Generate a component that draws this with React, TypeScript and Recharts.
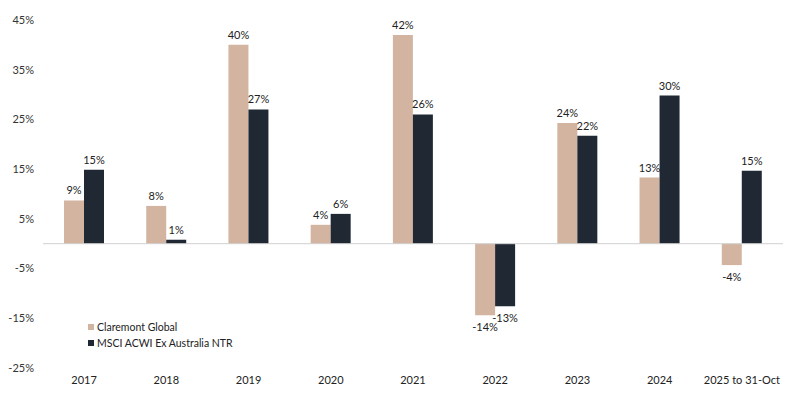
import { BarChart, Bar, XAxis, YAxis, ReferenceLine, LabelList } from "recharts";

const years = ["2017", "2018", "2019", "2020", "2021", "2022", "2023", "2024", "2025 to 31-Oct"];
const claremont = [8.7, 7.6, 40, 3.8, 42, -14.4, 24.3, 13.3, -4.3];
const msci = [14.9, 0.8, 27, 6, 26, -12.6, 21.7, 29.8, 14.7];
const yTicks = [-25, -15, -5, 5, 15, 25, 35, 45];

const series = [
  { key: "claremont", name: "Claremont Global", color: "#d2b4a0" },
  { key: "msci", name: "MSCI ACWI Ex Australia NTR", color: "#1f2833" },
];

const data = years.map((year, i) => ({ year, claremont: claremont[i], msci: msci[i] }));

const font = "Lato, 'Open Sans', sans-serif";
const pct = (v: number) => `${v}%`;

// value label above positive bars, below negative ones
const renderLabel = (props: any) => {
  const { x, y, width, height, value } = props;
  const top = Math.min(y, y + height);
  const bottom = Math.max(y, y + height);
  const neg = value < 0;
  return (
    <text
      x={x + width / 2}
      y={neg ? bottom + 16 : top - 6}
      textAnchor="middle"
      fontSize={11}
      fill="#222"
      fontFamily={font}
    >
      {`${Math.round(value)}%`}
    </text>
  );
};

export default function App() {
  return (
    <div style={{ position: "absolute", left: 0, top: 0, width: 802, height: 402, background: "#fff", fontFamily: font }}>
      <BarChart
        width={802}
        height={402}
        data={data}
        margin={{ top: 20, right: 19, bottom: 4, left: 0 }}
        barGap={0}
        barSize={20}
      >
        <XAxis
          dataKey="year"
          axisLine={false}
          tickLine={false}
          tickSize={0}
          tickMargin={8}
          height={30}
          interval={0}
          tick={{ fontSize: 11, fill: "#222", fontFamily: font }}
        />
        <YAxis
          domain={[-25, 45]}
          ticks={yTicks}
          axisLine={false}
          tickLine={false}
          tickSize={0}
          tickMargin={9}
          width={43}
          tickFormatter={pct}
          tick={{ fontSize: 11, fill: "#333", fontFamily: font }}
        />
        <ReferenceLine y={0} stroke="#d0d0d0" strokeWidth={1} />
        {series.map((s) => (
          <Bar key={s.key} dataKey={s.key} name={s.name} fill={s.color} isAnimationActive={false}>
            <LabelList dataKey={s.key} content={renderLabel} />
          </Bar>
        ))}
      </BarChart>
      <div style={{ position: "absolute", left: 88, top: 319, fontSize: 10.5, lineHeight: "16px", color: "#222" }}>
        {series.map((s) => (
          <div key={s.key} style={{ display: "flex", alignItems: "center" }}>
            <span style={{ display: "inline-block", width: 6, height: 6, background: s.color, marginRight: 3 }} />
            {s.name}
          </div>
        ))}
      </div>
    </div>
  );
}
